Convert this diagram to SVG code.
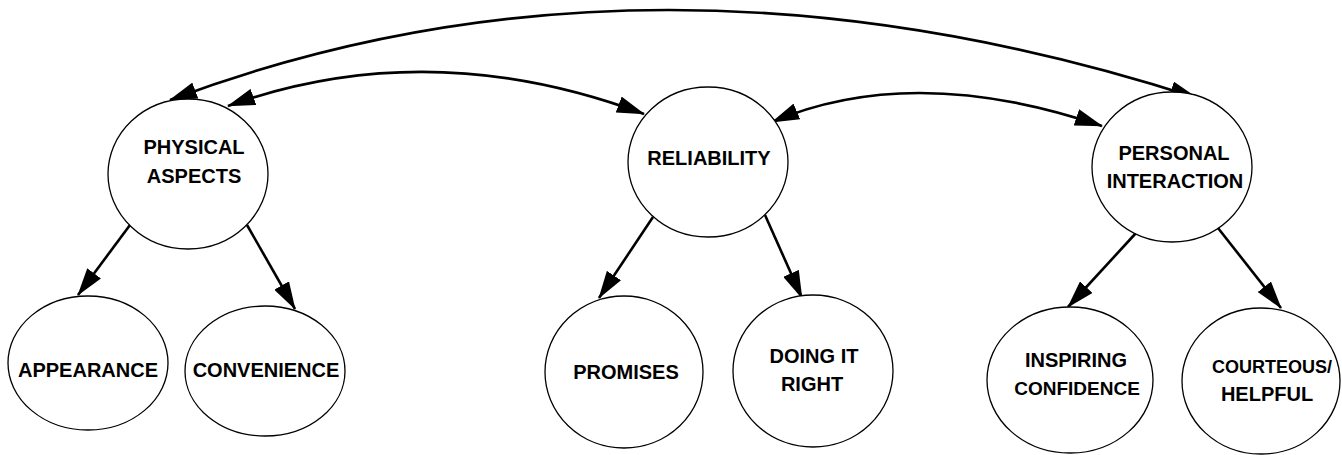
<svg xmlns="http://www.w3.org/2000/svg" width="1342" height="455" viewBox="0 0 1342 455">
<style>
.node ellipse { fill: #fff; stroke: #000; stroke-width: 1.3; }
.node text { font-family: "Liberation Sans", Arial, sans-serif; font-weight: bold; font-size: 20px; fill: #000; text-anchor: middle; }
.conn { fill: none; stroke: #000; stroke-width: 2.6; }
.arc { marker-start: url(#ah); marker-end: url(#ah); }
.down { marker-end: url(#ah); }
</style>
<defs>
<marker id="ah" markerUnits="userSpaceOnUse" viewBox="0 0 28 17" refX="27" refY="8.5" markerWidth="28" markerHeight="17" orient="auto-start-reverse">
<path d="M0,0 L28,8.5 L0,17 Z" fill="#000"/>
</marker>
</defs>
<rect width="1342" height="455" fill="#fff"/>
<g id="connectors">
<path class="conn arc" d="M170,100 Q648,-79 1197,98"/>
<path class="conn arc" d="M228,106 Q429,34 644,114"/>
<path class="conn arc" d="M772,122 Q913,62 1102,126"/>
<line class="conn down" x1="130" y1="225" x2="78" y2="295"/>
<line class="conn down" x1="247" y1="225" x2="295" y2="309"/>
<line class="conn down" x1="653" y1="217" x2="599" y2="298"/>
<line class="conn down" x1="765" y1="215" x2="802" y2="298"/>
<line class="conn down" x1="1136" y1="233" x2="1068" y2="307"/>
<line class="conn down" x1="1218" y1="228" x2="1281" y2="308"/>
</g>
<g id="physical-aspects" class="node">
<ellipse cx="188" cy="174" rx="80" ry="75"/>
<text x="194" y="154">PHYSICAL</text>
<text x="194" y="183">ASPECTS</text>
</g>
<g id="reliability" class="node">
<ellipse cx="708" cy="162" rx="80" ry="75"/>
<text x="709" y="165">RELIABILITY</text>
</g>
<g id="personal-interaction" class="node">
<ellipse cx="1172" cy="167" rx="80" ry="75"/>
<text x="1174" y="160">PERSONAL</text>
<text x="1175" y="188">INTERACTION</text>
</g>
<g id="appearance" class="node">
<ellipse cx="88" cy="363" rx="80" ry="67"/>
<text x="88" y="377">APPEARANCE</text>
</g>
<g id="convenience" class="node">
<ellipse cx="265" cy="371" rx="80" ry="65"/>
<text x="266" y="377">CONVENIENCE</text>
</g>
<g id="promises" class="node">
<ellipse cx="624" cy="372" rx="79" ry="76"/>
<text x="626" y="379">PROMISES</text>
</g>
<g id="doing-it-right" class="node">
<ellipse cx="813" cy="371" rx="80" ry="76"/>
<text x="814" y="363">DOING IT</text>
<text x="812" y="391">RIGHT</text>
</g>
<g id="inspiring-confidence" class="node">
<ellipse cx="1070" cy="380" rx="83" ry="73"/>
<text x="1076" y="367">INSPIRING</text>
<text x="1077" y="395" style="font-size:19px">CONFIDENCE</text>
</g>
<g id="courteous-helpful" class="node">
<ellipse cx="1261" cy="381" rx="79" ry="73"/>
<text x="1272" y="373" style="font-size:18px">COURTEOUS/</text>
<text x="1267" y="401">HELPFUL</text>
</g>
</svg>
